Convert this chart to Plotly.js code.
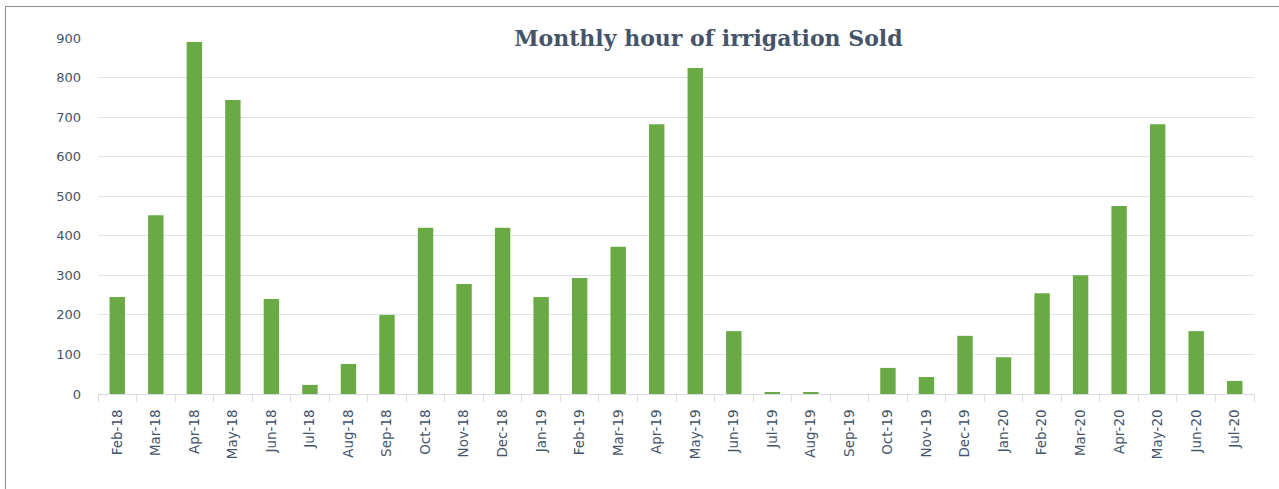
<!DOCTYPE html>
<html>
<head>
<meta charset="utf-8">
<script src="https://cdn.plot.ly/plotly-3.0.1.min.js"></script>
<style>
html,body{margin:0;padding:0;background:#fff;overflow:hidden;}
#frame{position:absolute;left:5px;top:6px;width:1290px;height:500px;border:1px solid #8c8c8c;box-sizing:border-box;}
#chart{position:absolute;left:0;top:0;width:1279px;height:489px;}
</style>
</head>
<body>
<div id="frame"></div>
<div id="chart"></div>
<script>
const months = ["Feb-18","Mar-18","Apr-18","May-18","Jun-18","Jul-18","Aug-18","Sep-18","Oct-18","Nov-18","Dec-18",
  "Jan-19","Feb-19","Mar-19","Apr-19","May-19","Jun-19","Jul-19","Aug-19","Sep-19","Oct-19","Nov-19","Dec-19",
  "Jan-20","Feb-20","Mar-20","Apr-20","May-20","Jun-20","Jul-20"];
const hoursSold = [245,452,890,743,240,23,76,200,420,278,420,
  245,293,372,682,824,159,5,5,0,66,43,147,
  93,255,300,475,682,159,33];
const yTicks = [0,100,200,300,400,500,600,700,800,900];

const trace = {
  type: 'bar',
  x: months,
  y: hoursSold,
  marker: {color: '#6aaa45', line: {width: 0}},
  hoverinfo: 'x+y'
};

const layout = {
  width: 1279, height: 489,
  margin: {l: 98, r: 25, t: 38, b: 95},
  paper_bgcolor: 'rgba(0,0,0,0)',
  plot_bgcolor: 'rgba(0,0,0,0)',
  bargap: 0.6,
  showlegend: false,
  title: {
    text: '<b>Monthly hour of irrigation Sold</b>',
    font: {family: 'DejaVu Serif, serif', size: 22, color: '#44546a'},
    x: 0.528, xanchor: 'center', xref: 'paper',
    y: 0.922, yanchor: 'middle', yref: 'container'
  },
  xaxis: {
    type: 'category',
    tickangle: -90,
    tickfont: {family: 'DejaVu Sans, sans-serif', size: 13.5, color: '#44546a'},
    showgrid: false,
    showline: true, linecolor: '#d9dce3', linewidth: 1,
    ticks: 'outside', ticklen: 7, tickcolor: '#d9dce3', tickson: 'boundaries',
    ticklabelstandoff: 9,
    range: [-0.5, 29.5]
  },
  yaxis: {
    range: [0, 900],
    tickvals: yTicks,
    ticktext: yTicks.map(String),
    tickfont: {family: 'DejaVu Sans, sans-serif', size: 13, color: '#44546a'},
    showgrid: true, gridcolor: '#dde1ea', gridwidth: 1,
    zeroline: false, showline: false,
    ticks: '', ticklabelstandoff: 16
  }
};

Plotly.newPlot('chart', [trace], layout, {displayModeBar: false, staticPlot: true});
</script>
</body>
</html>
